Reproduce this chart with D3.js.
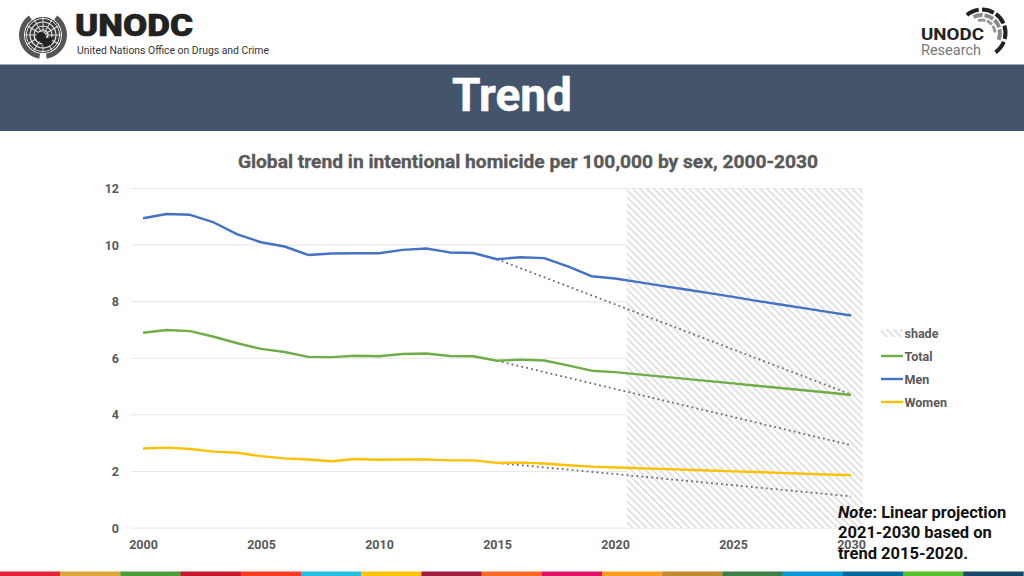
<!DOCTYPE html>
<html><head><meta charset="utf-8">
<script src="https://cdn.jsdelivr.net/npm/d3@7/dist/d3.min.js"></script>
<style>html,body{margin:0;padding:0;background:#fff}svg{display:block}text{font-family:Roboto,sans-serif}</style>
</head><body><svg id="c" width="1024" height="576"></svg>
<script>
const years = d3.range(2000, 2031);
const tickYears = [2000, 2005, 2010, 2015, 2020, 2025, 2030];
const yTicks = [0, 2, 4, 6, 8, 10, 12];
const men = [10.95,11.1,11.07,10.8,10.38,10.1,9.95,9.65,9.7,9.71,9.71,9.83,9.88,9.74,9.72,9.5,9.57,9.54,9.25,8.9,8.82,8.69,8.56,8.43,8.3,8.17,8.03,7.9,7.77,7.64,7.51];
const total = [6.9,7.0,6.96,6.76,6.53,6.33,6.22,6.05,6.04,6.09,6.07,6.15,6.17,6.08,6.07,5.91,5.95,5.92,5.75,5.56,5.51,5.43,5.35,5.27,5.19,5.11,5.03,4.95,4.87,4.79,4.7];
const women = [2.81,2.84,2.79,2.7,2.66,2.54,2.46,2.42,2.36,2.44,2.41,2.42,2.42,2.39,2.39,2.3,2.31,2.28,2.22,2.17,2.14,2.11,2.09,2.06,2.03,2.0,1.98,1.95,1.92,1.89,1.87];
const projYears = [2015, 2030];
const projMen = [9.5, 4.72];
const projTotal = [5.91, 2.93];
const projWomen = [2.3, 1.12];
const shadeYears = [2020.5, 2030.5];
const seriesNames = ["Total", "Men", "Women"];
const seriesColors = ["#70ad47", "#4472c4", "#ffc000"];
const stripeColors = ["#e5243b","#dda63a","#4c9f38","#c5192d","#ff3a21","#26bde2","#fcc30b","#a21942","#fd6925","#dd1367","#fd9d24","#bf8b2e","#3f7e44","#0a97d9","#00689d","#56c02b","#19486a"];

const svg = d3.select("#c");
const tg = "#595959";
const x = d3.scaleLinear().domain([2000, 2030]).range([143, 851]);
const y = d3.scaleLinear().domain([0, 12]).range([528, 188.5]);

const defs = svg.append("defs");
const pat = defs.append("pattern").attr("id","hatch").attr("width",5).attr("height",5)
  .attr("patternUnits","userSpaceOnUse").attr("patternTransform","rotate(45)");
pat.append("rect").attr("width",5).attr("height",5).attr("fill","#fff");
pat.append("rect").attr("y",0).attr("width",5).attr("height",2).attr("fill","#e2e2e2");

// stripe + header
svg.selectAll("rect.st").data(stripeColors).join("rect").attr("class","st")
  .attr("x",(d,i)=>i*60.2).attr("y",571.5).attr("width",60.5).attr("height",4.5).attr("fill",d=>d);
svg.append("rect").attr("x",0).attr("y",64.5).attr("width",1024).attr("height",66.5).attr("fill","#44546a");
svg.append("text").attr("x",512).attr("y",111).attr("text-anchor","middle").attr("fill","#fff")
  .attr("font-size",46).attr("font-weight",700).attr("stroke","#fff").attr("stroke-width",.5).text("Trend");

// chart title
svg.append("text").attr("x",528).attr("y",167.5).attr("text-anchor","middle").attr("fill",tg)
  .attr("stroke",tg).attr("stroke-width",.35)
  .attr("font-size",19.2).attr("font-weight",700).text("Global trend in intentional homicide per 100,000 by sex, 2000-2030");

// grid
svg.append("g").selectAll("line").data(yTicks).join("line")
  .attr("x1",131).attr("x2",863).attr("y1",d=>y(d)).attr("y2",d=>y(d))
  .attr("stroke","#e6e6e6").attr("stroke-width",1);
svg.append("rect").attr("x",x(shadeYears[0])).attr("y",y(12)).attr("width",x(shadeYears[1])-x(shadeYears[0]))
  .attr("height",y(0)-y(12)).attr("fill","url(#hatch)");

// axis labels
const axY = d3.axisLeft(y).tickValues(yTicks).tickSize(0).tickPadding(0);
const gy = svg.append("g").attr("transform","translate(119,0)").call(axY);
gy.select(".domain").remove();
gy.selectAll("text").attr("font-size",12.5).attr("font-weight",700).attr("fill",tg).attr("font-family","Roboto");
const axX = d3.axisBottom(x).tickValues(tickYears).tickFormat(d3.format("d")).tickSize(0).tickPadding(0);
const gx = svg.append("g").attr("transform","translate(0,540.5)").call(axX);
gx.select(".domain").remove();
gx.selectAll("text").attr("font-size",12.5).attr("font-weight",700).attr("fill",tg).attr("font-family","Roboto");

// projections
const proj = d3.line().x((d,i)=>x(projYears[i])).y(d=>y(d));
svg.append("g").selectAll("path").data([projMen,projTotal,projWomen]).join("path")
  .attr("d",proj).attr("fill","none").attr("stroke","#6a6a6a").attr("stroke-width",1.8).attr("stroke-dasharray","1.8 3.2");

// series
const line = d3.line().x((d,i)=>x(years[i])).y(d=>y(d)).curve(d3.curveLinear);
const seriesVals = [total, men, women];
svg.append("g").selectAll("path").data(seriesVals).join("path")
  .attr("d",line).attr("fill","none").attr("stroke",(d,i)=>seriesColors[i]).attr("stroke-width",2.4).attr("stroke-linejoin","round");

// legend
const lg = svg.append("g");
lg.append("rect").attr("x",881).attr("y",329).attr("width",22).attr("height",8).attr("fill","url(#hatch)");
lg.append("text").attr("x",904.5).attr("y",338).attr("font-size",12.5).attr("font-weight",700).attr("fill",tg).text("shade");
seriesNames.forEach((n,i)=>{
  const yy = 356 + i*23;
  lg.append("line").attr("x1",881).attr("x2",903).attr("y1",yy).attr("y2",yy).attr("stroke",seriesColors[i]).attr("stroke-width",2.4);
  lg.append("text").attr("x",904.5).attr("y",yy+4.5).attr("font-size",12.5).attr("font-weight",700).attr("fill",tg).text(n);
});

// note
const note = svg.append("g").attr("fill","#111").attr("font-size",16.5).attr("font-weight",700);
const n1 = note.append("text").attr("x",838).attr("y",518);
n1.append("tspan").attr("font-style","italic").text("Note");
n1.append("tspan").text(": Linear projection");
note.append("text").attr("x",838).attr("y",538).text("2021-2030 based on");
note.append("text").attr("x",838).attr("y",559).text("trend 2015-2020.");

// UNODC logo
const lo = svg.append("g");
const em = lo.append("g").attr("transform","translate(43,35)");
em.append("circle").attr("r",18).attr("fill","#3a3a3a");
[[5,1.2],[9,1.2],[13,1.2],[16.5,1]].forEach(([r,w])=>em.append("circle").attr("r",r).attr("fill","none").attr("stroke","#e8e8e8").attr("stroke-width",w));
d3.range(0,180,30).forEach(a=>em.append("line").attr("x1",-18).attr("x2",18).attr("transform",`rotate(${a})`).attr("stroke","#e8e8e8").attr("stroke-width",.9));
em.append("circle").attr("r",5).attr("cx",-2).attr("cy",2).attr("fill","#222");
em.append("path").attr("d","M-3 4 L10 2 L8 10 L1 12 Z").attr("fill","#222");
const arcL = d3.arc().innerRadius(19).outerRadius(24);
em.append("path").attr("d",arcL({startAngle:-Math.PI*0.95,endAngle:-Math.PI*0.2})).attr("fill","#555");
em.append("path").attr("d",arcL({startAngle:Math.PI*0.2,endAngle:Math.PI*0.95})).attr("fill","#555");
lo.append("text").attr("x",75).attr("y",36).attr("font-size",32).attr("font-weight",900).attr("fill","#222").attr("stroke","#222").attr("stroke-width",.6)
  .attr("textLength",118).attr("lengthAdjust","spacingAndGlyphs").text("UNODC");
lo.append("text").attr("x",77).attr("y",54).attr("font-size",11.5).attr("font-family","Lato").attr("fill","#333")
  .attr("textLength",192).attr("lengthAdjust","spacingAndGlyphs").text("United Nations Office on Drugs and Crime");

// research logo
const rl = svg.append("g").attr("transform","translate(982,33)");
const ringArc = (r0,r1,a0,a1,f)=>rl.append("path").attr("d",d3.arc().innerRadius(r0).outerRadius(r1)({startAngle:a0*Math.PI/180,endAngle:a1*Math.PI/180})).attr("fill",f);
[[-40,-8],[0,30],[36,66],[72,105],[112,145]].forEach(([a,b])=>ringArc(21.5,25.5,a,b,"#222"));
[[-28,2],[8,38],[44,72],[78,112]].forEach(([a,b])=>ringArc(16,20,a,b,"#8a8a8a"));
[[-18,15],[22,50],[56,88]].forEach(([a,b])=>ringArc(11.5,14.5,a,b,"#999"));
rl.append("rect").attr("x",-62).attr("y",-8).attr("width",66).attr("height",24).attr("fill","#fff");
svg.append("text").attr("x",921).attr("y",40).attr("font-size",16.5).attr("font-weight",700).attr("fill","#222")
  .attr("textLength",63).attr("lengthAdjust","spacingAndGlyphs").text("UNODC");
svg.append("text").attr("x",921).attr("y",55).attr("font-size",15.5).attr("fill","#777")
  .attr("textLength",60).attr("lengthAdjust","spacingAndGlyphs").text("Research");
</script></body></html>
